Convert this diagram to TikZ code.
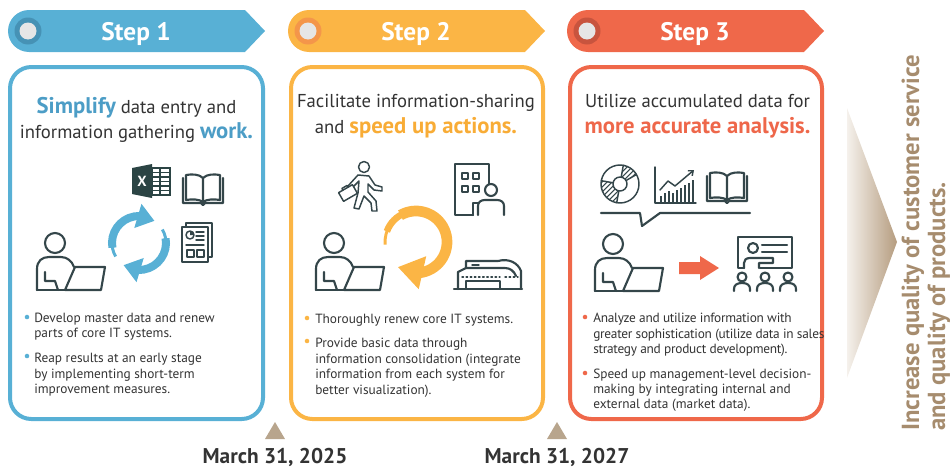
\documentclass[tikz,border=0pt]{standalone}
\usepackage{fontspec}
\setmainfont{PT Sans}
\usetikzlibrary{arrows.meta,bending,calc}

\definecolor{stepBlue}{HTML}{58B0D5}
\definecolor{ringBlue}{HTML}{4692B5}
\definecolor{textBlue}{HTML}{4C9DC6}
\definecolor{stepOrange}{HTML}{FBB545}
\definecolor{ringOrange}{HTML}{F4964A}
\definecolor{textOrange}{HTML}{F8AC36}
\definecolor{stepRed}{HTML}{EF684A}
\definecolor{ringRed}{HTML}{C8543E}
\definecolor{textRed}{HTML}{EE674A}
\definecolor{knob}{HTML}{E6E6E6}
\definecolor{ink}{HTML}{333333}
\definecolor{iconInk}{HTML}{34464A}
\definecolor{excelInk}{HTML}{2B4444}
\definecolor{tan}{HTML}{B8A58D}
\definecolor{tanText}{HTML}{A68C6E}
\definecolor{tanLight}{HTML}{F5F1EC}
\definecolor{tanDark}{HTML}{B59C7F}

\tikzset{
  icon/.style={draw=iconInk, line width=1.6pt, line join=round, line cap=round},
  thin icon/.style={draw=iconInk, line width=1.1pt, line join=round, line cap=round},
  frame/.style={line width=3pt, rounded corners=16pt},
  steplabel/.style={text=white, font=\bfseries\fontsize{19}{22}\selectfont, inner sep=0pt, anchor=base},
  headline/.style={text=ink, font=\fontsize{14}{17}\selectfont, inner sep=0pt, anchor=base},
  bodytext/.style={text=ink, font=\fontsize{10}{12}\selectfont, inner sep=0pt, anchor=base west},
  dot/.style={circle, inner sep=0pt, minimum size=3.4pt},
  datetext/.style={text=ink, font=\bfseries\fontsize{16}{18}\selectfont, inner sep=0pt, anchor=base},
  goaltext/.style={text=tanText, font=\bfseries\fontsize{18.5}{21}\selectfont, inner sep=0pt, anchor=base west, rotate=90},
  % person working at a laptop, origin at the centre of the head
  worker/.pic={
    \draw[icon] (0,0) circle[radius=10];
    \draw[icon] (-18,47) -- (-18,26) .. controls (-18,18) and (-13,14) .. (-6,14) -- (6,14) .. controls (12,14) and (17,18) .. (19,24);
    \draw[icon] (20,24) -- (50,24) -- (46,47) -- (10,47) -- cycle;
    \draw[icon] (-18,47) -- (10,47);
    \draw[icon] (-10,29) -- (-10,38) -- (0,38) -- (3,47);
  },
  % open book, origin at the top-left corner
  openbook/.pic={
    \draw[icon] (0,5) -- (0,30) -- (18,30) -- (20,32) -- (22,30) -- (40,30) -- (40,5);
    \draw[icon] (20,5) .. controls (16,1) and (9,1) .. (3,2) -- (3,27) .. controls (9,26) and (16,26) .. (20,29)
      .. controls (24,26) and (31,26) .. (37,27) -- (37,2) .. controls (31,1) and (24,1) .. (20,5) -- (20,29);
  },
}

\newcommand\stepbanner[3]{% left x, fill, ring colour
  \fill[#2] (#1+21,10) -- (#1+237,10) -- (#1+257,31) -- (#1+237,52) -- (#1+21,52)
    arc[start angle=90, end angle=270, radius=21] -- cycle;
  \fill[#3] (#1+20,31) circle[radius=13.5];
  \fill[knob] (#1+20,31) circle[radius=8.5];
}

\begin{document}
\begin{tikzpicture}[x=0.75pt, y=-0.75pt]
\useasboundingbox (0,0) rectangle (950,468);

% ---------- step banners ----------
\stepbanner{8}{stepBlue}{ringBlue}
\node[steplabel] (step1) at (136,40) {Step 1};
\stepbanner{288}{stepOrange}{ringOrange}
\node[steplabel] (step2) at (416,40) {Step 2};
\stepbanner{567}{stepRed}{ringRed}
\node[steplabel] (step3) at (695,40) {Step 3};

% ---------- frames ----------
\draw[frame, stepBlue] (10,67) rectangle (263,419);
\draw[frame, stepOrange] (291,67) rectangle (543,419);
\draw[frame, stepRed] (570,67) rectangle (822,419);

% ---------- headlines ----------
\node[headline] (h1a) at (136.5,113) {{\bfseries\color{textBlue}\fontsize{17}{20}\selectfont Simplify} data entry and};
\node[headline] (h1b) at (136.5,138) {information gathering {\bfseries\color{textBlue}\fontsize{17}{20}\selectfont work.}};
\node[headline] (h2a) at (416,107) {Facilitate information-sharing};
\node[headline] (h2b) at (416,133) {and {\bfseries\color{textOrange}\fontsize{17}{20}\selectfont speed up actions.}};
\node[headline] (h3a) at (697.5,107) {Utilize accumulated data for};
\node[headline] (h3b) at (697.5,133) {{\bfseries\color{textRed}\fontsize{17}{20}\selectfont more accurate analysis.}};

% ---------- bullets ----------
\node[dot, fill=stepBlue] (d1a) at (27,317) {};
\node[dot, fill=stepBlue] (d1b) at (27,356) {};
\foreach \y/\t [count=\i] in {322/{Develop master data and renew}, 337/{parts of core IT systems.},
    362/{Reap results at an early stage}, 378/{by implementing short-term}, 393/{improvement measures.}}
  \node[bodytext] (t1-\i) at (34,\y) {\t};

\node[dot, fill=stepOrange] (d2a) at (307,318) {};
\node[dot, fill=stepOrange] (d2b) at (307,341) {};
\foreach \y/\t [count=\i] in {323/{Thoroughly renew core IT systems.}, 347/{Provide basic data through},
    363/{information consolidation (integrate}, 378/{information from each system for}, 394/{better visualization).}}
  \node[bodytext] (t2-\i) at (315,\y) {\t};

\node[dot, fill=stepRed] (d3a) at (585,317) {};
\node[dot, fill=stepRed] (d3b) at (585,373) {};
\foreach \y/\t [count=\i] in {322/{Analyze and utilize information with}, 338/{greater sophistication (utilize data in sales},
    353/{strategy and product development).}}
  \node[bodytext, font=\fontsize{10}{12}\selectfont\addfontfeature{LetterSpace=-2}] (t3-\i) at (593,\y) {\t};
\foreach \y/\t [count=\i from 4] in {378/{Speed up management-level decision-},
    393/{making by integrating internal and}, 408/{external data (market data).}}
  \node[bodytext] (t3-\i) at (593,\y) {\t};

% ---------- step 1 icons ----------
\pic at (55,243) {worker};
% spreadsheet
\fill[excelInk] (132,168) -- (152,164) -- (152,198) -- (132,194) -- cycle;
\node[text=white, font=\bfseries\fontsize{11}{11}\selectfont, inner sep=0pt] (xl) at (142,181) {X};
\draw[excelInk, line width=0.9pt] (152,168) rectangle (170,195) (160,168) -- (160,195);
\foreach \yy in {172.5,177,181.5,186,190.5} \draw[excelInk, line width=0.9pt] (152,\yy) -- (170,\yy);
\pic at (183,173) {openbook};
% report sheet
\draw[thin icon, fill=white] (186,223) rectangle (212,257);
\draw[thin icon, fill=white] (182,227) rectangle (208,262);
\draw[thin icon] (190,235) circle[radius=4];
\fill[iconInk] (190,235) -- ++(270:4) arc[start angle=270, end angle=360, radius=4] -- cycle;
\foreach \yy in {232,236,240} \draw[thin icon] (196,\yy) -- (204,\yy);
\draw[thin icon] (186,245) -- (204,245);
\draw[thin icon] (187,250) rectangle (194,257) (197,250) rectangle (204,257);
% refresh cycle
\draw[stepBlue, line width=2.2pt] ([shift={(150:27)}]139,243) arc[start angle=150, end angle=185, radius=27];
\draw[stepBlue, line width=6pt, -{Triangle[length=13pt, width=18pt, flex]}]
  ([shift={(170:27)}]139,243) arc[start angle=170, end angle=305, radius=27];
\draw[stepBlue, line width=2.2pt] ([shift={(330:27)}]139,243) arc[start angle=330, end angle=365, radius=27];
\draw[stepBlue, line width=6pt, -{Triangle[length=13pt, width=18pt, flex]}]
  ([shift={(350:27)}]139,243) arc[start angle=350, end angle=485, radius=27];

% ---------- step 2 icons ----------
\pic at (334,243) {worker};
% walking man with briefcase
\draw[thin icon] (364,167) circle[radius=5.5];
\draw[thin icon, fill=white] (358,175) -- (348,186) -- (351,189) -- (359,181) -- (358,193) -- (354,208) -- (359,209)
  -- (364,196) -- (371,203) -- (372,211) -- (377,211) -- (376,201) -- (368,192) -- (368,184) -- (374,190)
  -- (382,191) -- (382,187) -- (375,185) -- (369,176) -- cycle;
\draw[thin icon, fill=white, rotate around={30:(348,193)}] (340,188) rectangle (356,198);
\draw[thin icon, rotate around={30:(348,193)}] (345,188) -- (345,186) -- (351,186) -- (351,188);
% office building with visitor
\draw[icon] (473,215) -- (455,215) -- (455,164) -- (489,164) -- (489,184);
\draw[icon] (473,215) -- (473,203) -- (478,203);
\foreach \xx/\yy in {462/173, 473/173, 462/186, 473/186} \draw[thin icon] (\xx,\yy) rectangle ++(6,6);
\draw[icon, fill=white] (491,190) circle[radius=6];
\draw[icon] (478,215) -- (478,206) .. controls (478,202) and (481,200) .. (485,200) -- (497,200)
  .. controls (501,200) and (504,202) .. (504,206) -- (504,215);
% factory
\draw[icon] (454,289) -- (522,289);
\draw[icon] (458,289) -- (458,272) -- (466,268) -- (466,261) -- (498,261)
  .. controls (509,258) and (518,263) .. (521,271) -- (521,289);
\draw[icon] (466,268) -- (505,268) .. controls (510,268) and (514,271) .. (516,276);
\draw[thin icon, dotted] (462,277) -- (500,277);
\draw[thin icon, dotted] (505,277) -- (518,277);
\draw[thin icon] (466,289) -- (466,281) -- (500,281) -- (500,289);
\draw[thin icon] (472,265) -- (479,265);
% flow arrow
\draw[stepOrange, line width=2.2pt] ([shift={(175:31)}]416,242) arc[start angle=175, end angle=215, radius=31];
\draw[stepOrange, line width=5pt] ([shift={(200:31)}]416,242) arc[start angle=200, end angle=250, radius=31];
\draw[stepOrange, line width=8pt, -{Triangle[length=19pt, width=24pt, flex]}]
  ([shift={(240:31)}]416,242) arc[start angle=240, end angle=486, radius=31];

% ---------- step 3 icons ----------
\pic at (613,244) {worker};
% donut chart
\begin{scope}
  \clip (620,184) -- ++(100:19) arc[start angle=100, end angle=190, radius=19] -- cycle;
  \foreach \k in {-40,-35,...,40} \draw[iconInk, line width=0.8pt] (620+\k-20,204) -- (620+\k+20,164);
\end{scope}
\begin{scope}
  \clip (620,184) -- ++(280:19) arc[start angle=280, end angle=330, radius=19] -- cycle;
  \foreach \k in {-40,-35,...,40} \draw[iconInk, line width=0.8pt] (620+\k-20,204) -- (620+\k+20,164);
\end{scope}
\draw[thin icon] (620,184) circle[radius=19];
\draw[thin icon, fill=white] (620,184) circle[radius=7];
\foreach \a in {100,190,280,330} \draw[thin icon] ([shift={(\a:7)}]620,184) -- ([shift={(\a:19)}]620,184);
% rising bar chart
\draw[thin icon] (655,167) -- (655,203) -- (696,203);
\foreach \xx/\yy in {661/196, 665/193, 669/191, 673/193, 677/190, 681/188, 685/185, 689/183, 693/180}
  \draw[iconInk, line width=0.9pt] (\xx,202) -- (\xx,\yy);
\draw[thin icon, -{Straight Barb[length=3pt, width=5pt]}] (660,190) -- (668,181) -- (675,186) -- (694,170);
\pic at (707,171) {openbook};
% speech balloon line
\draw[icon] (601,213) -- (640,213) -- (642,226) -- (660,213) -- (750,213);
% red arrow
\fill[stepRed] (679,262) -- (700,262) -- (700,256) -- (719,268) -- (700,280) -- (700,274) -- (679,274) -- cycle;
% presentation
\draw[icon] (744,268) -- (738,268) -- (738,237) -- (792,237) -- (792,268) -- (760,268);
\draw[icon] (753,248) circle[radius=5];
\draw[icon] (762,245) -- (787,245) (762,252) -- (787,252);
\draw[icon] (744,268) -- (744,263) .. controls (744,260) and (746,258) .. (750,258) -- (773,258) -- (773,263) -- (759,263) -- (759,268);
\foreach \xx in {742,765,788} {
  \draw[icon] (\xx,277) circle[radius=4.5];
  \draw[icon] (\xx-8,291) -- (\xx-8,289) .. controls (\xx-8,285) and (\xx-5,283) .. (\xx,283)
    .. controls (\xx+5,283) and (\xx+8,285) .. (\xx+8,289) -- (\xx+8,291);
}

% ---------- milestones ----------
\fill[tan] (265,439) -- (275,422) -- (285,439) -- cycle;
\fill[tan] (547,439) -- (557,422) -- (567,439) -- cycle;
\node[datetext] (date1) at (275,463) {March 31, 2025};
\node[datetext] (date2) at (557,463) {March 31, 2027};

% ---------- outcome ----------
\shade[left color=tanLight, right color=tanDark] (847,108) -- (897,242) -- (847,378) -- cycle;
\node[goaltext] (goal1) at (919,431) {Increase quality of customer service};
\node[goaltext] (goal2) at (945,431) {and quality of products.};
\end{tikzpicture}
\end{document}
